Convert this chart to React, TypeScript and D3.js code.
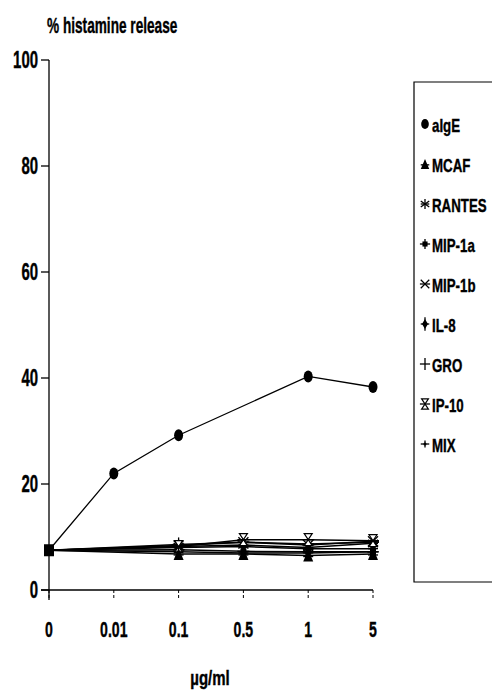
import React, { useEffect, useRef } from 'react';
import * as d3 from 'd3';

const doses = ['0', '0.01', '0.1', '0.5', '1', '5'];
const yTicks = [0, 20, 40, 60, 80, 100];

const seriesNames = ['aIgE', 'MCAF', 'RANTES', 'MIP-1a', 'MIP-1b', 'IL-8', 'GRO', 'IP-10', 'MIX'];

// null = no measurement at that dose
const aIgE = [7.5, 22, 29.2, null, 40.3, 38.3];
const mcaf = [7.5, null, 6.8, 6.8, 6.5, 6.8];
const rantes = [7.5, null, 8.2, 8.5, 8.0, 8.8];
const mip1a = [7.5, null, 7.6, 7.3, 7.2, 7.2];
const mip1b = [7.5, null, 8.4, 9.0, 8.5, 9.2];
const il8 = [7.5, null, 8.0, 8.2, 7.8, 7.8];
const gro = [7.5, null, 8.6, 9.0, 8.7, 9.0];
const ip10 = [7.5, null, 8.2, 9.5, 9.5, 9.3];
const mix = [7.5, null, 7.2, 7.0, 7.0, 7.2];

const seriesValues: (number | null)[][] = [aIgE, mcaf, rantes, mip1a, mip1b, il8, gro, ip10, mix];

const FONT = '"Liberation Sans", Arial, sans-serif';

type G = d3.Selection<SVGGElement, unknown, null, undefined>;
type S = d3.Selection<SVGSVGElement, unknown, null, undefined>;

// condensed bold text, like the narrow typeface of the original figure
function label(svg: S, x: number, y: number, txt: string, size: number, sx: number, anchor = 'start') {
  svg.append('text')
    .attr('transform', `translate(${x},${y}) scale(${sx},1)`)
    .attr('text-anchor', anchor)
    .attr('font-family', FONT).attr('font-weight', 'bold').attr('font-size', size)
    .attr('stroke', '#000').attr('stroke-width', 0.4)
    .text(txt);
}

function drawMarker(g: G, kind: string, s = 1) {
  const line = (x1: number, y1: number, x2: number, y2: number) =>
    g.append('line').attr('x1', x1 * s).attr('y1', y1 * s).attr('x2', x2 * s).attr('y2', y2 * s)
      .attr('stroke', '#000').attr('stroke-width', 1.3);
  switch (kind) {
    case 'aIgE':
      g.append('ellipse').attr('rx', 4.5 * s).attr('ry', 6 * s).attr('fill', '#000');
      break;
    case 'MCAF':
      g.append('path').attr('d', `M0,${-6 * s}L${5 * s},${6 * s}L${-5 * s},${6 * s}Z`).attr('fill', '#000');
      line(-5, 1, 5, 1);
      break;
    case 'RANTES':
      line(0, -6, 0, 6); line(-5, -3.5, 5, 3.5); line(-5, 3.5, 5, -3.5); line(-5, 0, 5, 0);
      break;
    case 'MIP-1a':
      g.append('rect').attr('x', -3 * s).attr('y', -3 * s).attr('width', 6 * s).attr('height', 6 * s).attr('fill', '#000');
      line(-6, 0, 6, 0); line(0, -6, 0, 6);
      break;
    case 'MIP-1b':
      line(-5, -5, 5, 5); line(-5, 5, 5, -5); line(-6, 0, 6, 0);
      break;
    case 'IL-8':
      g.append('path').attr('d', `M0,${-6 * s}L${3.5 * s},0L0,${6 * s}L${-3.5 * s},0Z`).attr('fill', '#000');
      line(0, -8, 0, 8); line(-5, 0, 5, 0);
      break;
    case 'GRO':
      line(-6, 0, 6, 0); line(0, -7, 0, 7);
      break;
    case 'IP-10':
      g.append('path').attr('d', `M${-4 * s},${-6 * s}L${4 * s},${-6 * s}L${-4 * s},${6 * s}L${4 * s},${6 * s}Z`)
        .attr('fill', '#fff').attr('stroke', '#000').attr('stroke-width', 1.2);
      line(-6, 0, 6, 0);
      break;
    case 'MIX':
      g.append('circle').attr('r', 1.8 * s).attr('fill', '#000');
      line(-5, 0, 5, 0); line(0, -4, 0, 4);
      break;
  }
}

export default function App() {
  const ref = useRef<SVGSVGElement>(null);

  useEffect(() => {
    if (!ref.current) return;
    const svg = d3.select(ref.current) as S;
    svg.selectAll('*').remove();

    const x = d3.scalePoint<string>().domain(doses).range([49, 373]);
    const y = d3.scaleLinear().domain([0, 100]).range([590, 60]);

    svg.append('rect').attr('width', 492).attr('height', 690).attr('fill', '#fff');

    // title
    label(svg, 47, 33, '% histamine release', 22, 0.62);

    // y axis
    svg.append('line').attr('x1', 49).attr('x2', 49).attr('y1', y(100)).attr('y2', 600)
      .attr('stroke', '#000').attr('stroke-width', 1.3);
    yTicks.forEach(t => {
      svg.append('line').attr('x1', 41).attr('x2', 49).attr('y1', y(t)).attr('y2', y(t))
        .attr('stroke', '#000').attr('stroke-width', 1.3);
      label(svg, 38, y(t) + 8, String(t), 23, 0.65, 'end');
    });

    // x axis
    svg.append('line').attr('x1', 41).attr('x2', 373).attr('y1', y(0)).attr('y2', y(0))
      .attr('stroke', '#000').attr('stroke-width', 1.3);
    doses.forEach(d => {
      svg.append('line').attr('x1', x(d)!).attr('x2', x(d)!).attr('y1', y(0)).attr('y2', 600)
        .attr('stroke', '#000').attr('stroke-width', 1).attr('stroke-dasharray', '3,2');
      label(svg, x(d)!, 637, d, 22, 0.64, 'middle');
    });
    label(svg, 210, 685, 'µg/ml', 20, 0.75, 'middle');

    // lines
    const lineGen = d3.line<{ d: string; v: number }>().x(p => x(p.d)!).y(p => y(p.v));
    seriesValues.forEach((vals, i) => {
      const pts = vals.map((v, j) => ({ d: doses[j], v })).filter(p => p.v !== null) as { d: string; v: number }[];
      svg.append('path').attr('d', lineGen(pts)).attr('fill', 'none').attr('stroke', '#000')
        .attr('stroke-width', i === 0 ? 1.3 : 1.5);
    });
    // markers
    seriesValues.forEach((vals, i) => {
      vals.forEach((v, j) => {
        if (v === null || j === 0) return;
        const g = svg.append('g').attr('transform', `translate(${x(doses[j])},${y(v)})`) as G;
        drawMarker(g, seriesNames[i]);
      });
    });
    // overlapping markers at dose 0
    svg.append('rect').attr('x', x('0')! - 5).attr('y', y(7.5) - 6).attr('width', 10).attr('height', 12).attr('fill', '#000');

    // legend
    svg.append('path').attr('d', 'M500,82H414V582H500').attr('fill', 'none').attr('stroke', '#000').attr('stroke-width', 1.2);
    const legendY = d3.scalePoint<string>().domain(seriesNames).range([124, 444]);
    seriesNames.forEach(n => {
      const ly = legendY(n)!;
      const g = svg.append('g').attr('transform', `translate(425,${ly})`) as G;
      drawMarker(g, n, 0.85);
      label(svg, 432, ly + 8, n, 19, 0.7);
    });
  }, []);

  return (
    <svg ref={ref} width={492} height={690} style={{ position: 'absolute', left: 0, top: 0 }} />
  );
}
